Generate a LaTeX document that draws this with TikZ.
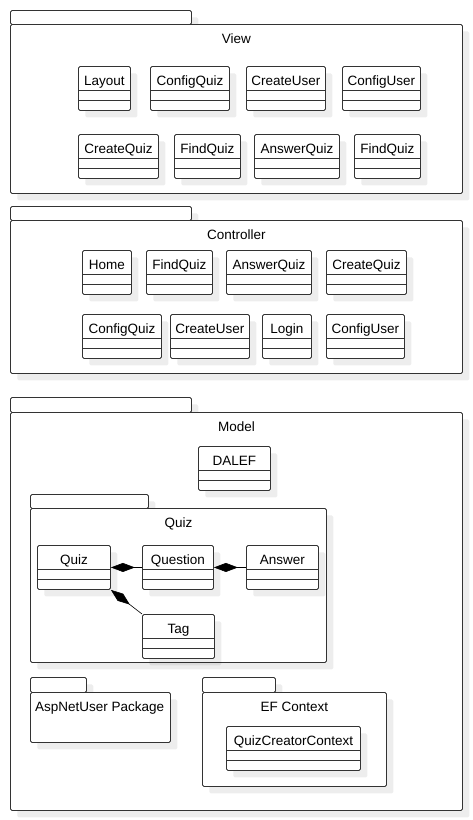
\documentclass[tikz,border=0pt]{standalone}
\usepackage{fontspec}
\setmainfont{Liberation Sans}
\usetikzlibrary{shadows,arrows.meta}

\tikzstyle{pkgbox} = [draw=black!80, fill=white, line width=0.9pt,
    rectangle, inner sep=0pt, rounded corners=1.5pt, anchor=north west,
    drop shadow={shadow xshift=7pt, shadow yshift=-7pt, fill=black, opacity=0.07}]
\tikzstyle{classbox} = [pkgbox, text height=19pt, text depth=25pt, minimum height=44pt]
\tikzstyle{pkgtitle} = [anchor=base, inner sep=0pt]
\tikzstyle{comp} = [draw=black, line width=0.6pt, -{Diamond[length=24pt,width=9pt]}]

\begin{document}
\begin{tikzpicture}[x=1pt, y=-1pt, font=\fontsize{13.5}{16}\selectfont, text=black]
\useasboundingbox (0,0) rectangle (472,820);

\node[pkgbox, minimum width=181pt, minimum height=14pt] (viewtab) at (10,10) {};
\node[pkgbox, minimum width=452pt, minimum height=169pt] (view) at (10,24) {};
\node[pkgtitle] (viewtitle) at ([yshift=-19pt]view.north) {View};
\node[classbox, minimum width=52pt] (vLayout) at (78,66) {Layout};
\node[classbox, minimum width=79pt] (vConfigQuiz) at (150,66) {ConfigQuiz};
\node[classbox, minimum width=79pt] (vCreateUser) at (246,66) {CreateUser};
\node[classbox, minimum width=78pt] (vConfigUser) at (342,66) {ConfigUser};
\node[classbox, minimum width=80pt] (vCreateQuiz) at (78,134) {CreateQuiz};
\node[classbox, minimum width=66pt] (vFindQuiz) at (174,134) {FindQuiz};
\node[classbox, minimum width=85pt] (vAnswerQuiz) at (254,134) {AnswerQuiz};
\node[classbox, minimum width=66pt] (vFindQuizB) at (354,134) {FindQuiz};

\node[pkgbox, minimum width=181pt, minimum height=14pt] (ctrltab) at (10,206) {};
\node[pkgbox, minimum width=452pt, minimum height=153pt] (ctrl) at (10,220) {};
\node[pkgtitle] (ctrltitle) at ([yshift=-19pt]ctrl.north) {Controller};
\node[classbox, minimum width=49pt] (cHome) at (82,250) {Home};
\node[classbox, minimum width=66pt] (cFindQuiz) at (146,250) {FindQuiz};
\node[classbox, minimum width=85pt] (cAnswerQuiz) at (226,250) {AnswerQuiz};
\node[classbox, minimum width=80pt] (cCreateQuiz) at (326,250) {CreateQuiz};
\node[classbox, minimum width=79pt] (cConfigQuiz) at (82,314) {ConfigQuiz};
\node[classbox, minimum width=79pt] (cCreateUser) at (170,314) {CreateUser};
\node[classbox, minimum width=49pt] (cLogin) at (262,314) {Login};
\node[classbox, minimum width=78pt] (cConfigUser) at (326,314) {ConfigUser};

\node[pkgbox, minimum width=181pt, minimum height=15pt] (modeltab) at (10,397) {};
\node[pkgbox, minimum width=452pt, minimum height=398pt] (model) at (10,412) {};
\node[pkgtitle] (modeltitle) at ([yshift=-19pt]model.north) {Model};
\node[classbox, minimum width=72pt] (mDALEF) at (198,446) {DALEF};

\node[pkgbox, minimum width=118pt, minimum height=14pt] (quiztab) at (30,494) {};
\node[pkgbox, minimum width=296pt, minimum height=154pt] (quizpkg) at (30,508) {};
\node[pkgtitle] (quiztitle) at ([yshift=-19pt]quizpkg.north) {Quiz};
\node[classbox, minimum width=73pt] (mQuiz) at (37,545) {Quiz};
\node[classbox, minimum width=71pt] (mQuestion) at (142,545) {Question};
\node[classbox, minimum width=72pt] (mAnswer) at (246,545) {Answer};
\node[classbox, minimum width=72pt] (mTag) at (142,614) {Tag};
\draw[comp] (mQuestion) -- (mQuiz);
\draw[comp] (mAnswer) -- (mQuestion);
\draw[comp] (mTag.north west) -- (mQuiz.south east);

\node[pkgbox, minimum width=56pt, minimum height=15pt] (asptab) at (30,677) {};
\node[pkgbox, minimum width=140pt, minimum height=50pt] (asppkg) at (30,692) {};
\node[pkgtitle, anchor=base west] (asptitle) at ([xshift=5pt,yshift=-19pt]asppkg.north west) {AspNetUser Package};

\node[pkgbox, minimum width=73pt, minimum height=15pt] (eftab) at (202,677) {};
\node[pkgbox, minimum width=184pt, minimum height=94pt] (efpkg) at (202,692) {};
\node[pkgtitle] (eftitle) at ([yshift=-19pt]efpkg.north) {EF Context};
\node[classbox, minimum width=134pt] (mQuizCreatorContext) at (226,726) {QuizCreatorContext};

\foreach \c in {vLayout, vConfigQuiz, vCreateUser, vConfigUser, vCreateQuiz, vFindQuiz,
    vAnswerQuiz, vFindQuizB, cHome, cFindQuiz, cAnswerQuiz, cCreateQuiz, cConfigQuiz,
    cCreateUser, cLogin, cConfigUser, mDALEF, mQuiz, mQuestion, mAnswer, mTag,
    mQuizCreatorContext}
  \draw[draw=black!80, line width=0.9pt] ([yshift=-24pt]\c.north west) -- ([yshift=-24pt]\c.north east)
    ([yshift=-34pt]\c.north west) -- ([yshift=-34pt]\c.north east);
\end{tikzpicture}
\end{document}
